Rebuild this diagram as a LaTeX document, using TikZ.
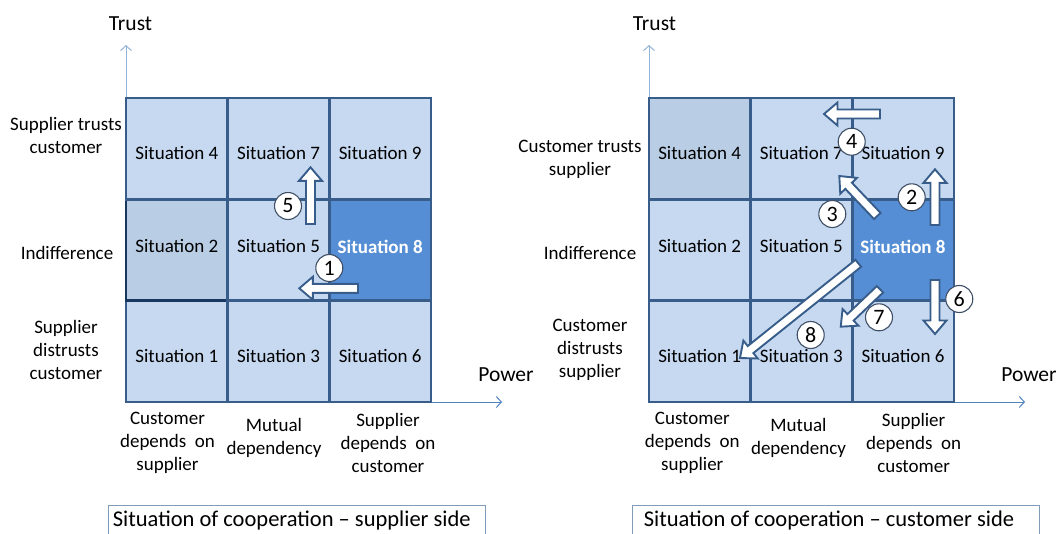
\documentclass[tikz,border=0pt]{standalone}
\usepackage{fontspec}
\setmainfont{Carlito}
\usetikzlibrary{arrows.meta,calc}
\definecolor{cellfill}{HTML}{C6D9F1}
\definecolor{celldark}{HTML}{B9CDE5}
\definecolor{cellhi}{HTML}{558ED5}
\definecolor{gridline}{HTML}{385D8A}
\definecolor{navyline}{HTML}{17375E}
\definecolor{axisv}{HTML}{95B3D7}
\definecolor{axish}{HTML}{4F81BD}
\definecolor{capline}{HTML}{7F9DB9}
\definecolor{arrline}{HTML}{385D8A}
\definecolor{numline}{HTML}{3F4F66}
\newcommand\blockarr[4]{%
  \pgfmathsetmacro\baang{atan2(#2-#4,#3-#1)}%
  \pgfmathsetmacro\balen{veclen(#3-#1,#4-#2)}%
  \draw[barrow,shift={(#1,#2)},rotate=\baang] (0,4.5) -- ({\balen-13.5},4.5) -- ({\balen-13.5},11.5) -- (\balen,0) -- ({\balen-13.5},-11.5) -- ({\balen-13.5},-4.5) -- (0,-4.5) -- cycle;}
\tikzset{
  cell/.style={draw=gridline, line width=2.7pt, minimum width=101.7pt, minimum height=101.3pt, inner sep=0pt, fill=cellfill},
  ctext/.style={font=\fontsize{19}{23}\selectfont, inner sep=0pt},
  hitext/.style={font=\fontsize{19}{23}\selectfont\bfseries, text=white, inner sep=0pt},
  lab/.style={font=\fontsize{19}{23}\selectfont, align=center, inner sep=0pt},
  axlab/.style={font=\fontsize{21.5}{26}\selectfont, inner sep=0pt},
  num/.style={circle, draw=numline, fill=white, line width=1.1pt, minimum size=27pt, inner sep=0pt, font=\fontsize{22}{26}\selectfont},
  barrow/.style={draw=arrline, fill=white, line width=1.9pt, line join=miter},
  capbox/.style={draw=capline, line width=1pt},
  captext/.style={font=\fontsize{22.5}{27}\selectfont, inner sep=0pt},
  axv/.style={draw=axisv, line width=1pt, -{Straight Barb[length=5pt,width=11pt]}},
  axh/.style={draw=axish, line width=1pt, -{Straight Barb[length=5pt,width=11pt]}}
}
\begin{document}
\begin{tikzpicture}[x=1pt,y=-1pt]
\useasboundingbox (0,0) rectangle (1063,533);
\clip (0,0) rectangle (1063,533);
% ---------- LEFT ----------
\coordinate (LO) at (126,402);
\coordinate (LT) at (126,45);
\coordinate (LR) at (502,402);
\draw[axv] (LO) -- (LT);
\draw[axh] (LO) -- (LR);
\node[axlab] (LTrust) at (130.5,24) {Trust};
\node[axlab] (LPower) at (506,375) {Power};
% row 3
\node[cell] (L1) at (176.8,351.3) {};
\node[cell] (L3) at (278.5,351.3) {};
\node[cell] (L6) at (380.2,351.3) {};
% row 2
\node[cell, fill=celldark, draw=navyline] (L2) at (176.8,250) {};
\node[cell] (L5) at (278.5,250) {};
\node[cell, fill=cellhi] (L8) at (380.2,250) {};
% row 1
\node[cell] (L4) at (176.8,148.7) {};
\node[cell] (L7) at (278.5,148.7) {};
\node[cell] (L9) at (380.2,148.7) {};
\node[ctext] (tL4) at (176.8,153) {Situation 4};
\node[ctext] (tL7) at (278.5,153) {Situation 7};
\node[ctext] (tL9) at (380.2,153) {Situation 9};
\node[ctext] (tL2) at (176.8,246) {Situation 2};
\node[ctext] (tL5) at (278.5,246) {Situation 5};
\node[hitext] (tL8) at (380.2,246.5) {Situation 8};
\node[ctext] (tL1) at (176.8,356) {Situation 1};
\node[ctext] (tL3) at (278.5,356) {Situation 3};
\node[ctext] (tL6) at (380.2,356) {Situation 6};
\node[lab] (LrowA) at (66,135) {Supplier trusts\\customer};
\node[lab] (LrowB) at (67,253) {Indifference};
\node[lab] (LrowC) at (66,350) {Supplier\\distrusts\\customer};
\node[lab] (LcolA) at (167.5,443) {Customer\\depends~ on\\supplier};
\node[lab] (LcolB) at (274,438) {Mutual\\dependency};
\node[lab] (LcolC) at (388,443) {Supplier\\depends~ on\\customer};
\blockarr{358}{288.3}{299.3}{288.3}
\blockarr{310.5}{224}{310.5}{167.3}
\node[num] (n1) at (329.3,268) {1};
\node[num] (n5) at (288,206) {5};
\draw[capbox] (108,505.5) rectangle (485,545);
\node[captext, anchor=west] (capL) at (112.7,520) {Situation of cooperation -- supplier side};
% ---------- RIGHT ----------
\coordinate (RO) at (649,402);
\coordinate (RT) at (649,45);
\coordinate (RR) at (1025,402);
\draw[axv] (RO) -- (RT);
\draw[axh] (RO) -- (RR);
\node[axlab] (RTrust) at (654.5,24) {Trust};
\node[axlab] (RPower) at (1029,375) {Power};
\node[cell] (R1) at (699.7,351.3) {};
\node[cell] (R3) at (801.3,351.3) {};
\node[cell] (R6) at (903,351.3) {};
\node[cell] (R2) at (699.7,250) {};
\node[cell] (R5) at (801.3,250) {};
\node[cell, fill=cellhi] (R8) at (903,250) {};
\node[cell, fill=celldark] (R4) at (699.7,148.7) {};
\node[cell] (R7) at (801.3,148.7) {};
\node[cell] (R9) at (903,148.7) {};
\node[ctext] (tR4) at (699.7,153) {Situation 4};
\node[ctext] (tR7) at (801.3,153) {Situation 7};
\node[ctext] (tR9) at (903,153) {Situation 9};
\node[ctext] (tR2) at (699.7,246) {Situation 2};
\node[ctext] (tR5) at (801.3,246) {Situation 5};
\node[hitext] (tR8) at (903,246.5) {Situation 8};
\node[ctext] (tR1) at (699.7,356) {Situation 1};
\node[ctext] (tR3) at (801.3,356) {Situation 3};
\node[ctext] (tR6) at (903,356) {Situation 6};
\node[lab] (RrowA) at (580,159) {Customer trusts\\supplier};
\node[lab] (RrowB) at (590,253) {Indifference};
\node[lab] (RrowC) at (590,350) {Customer\\distrusts\\supplier};
\node[lab] (RcolA) at (692.3,443) {Customer\\depends~ on\\supplier};
\node[lab] (RcolB) at (798.5,438) {Mutual\\dependency};
\node[lab] (RcolC) at (913.6,443) {Supplier\\depends~ on\\customer};
\blockarr{880}{114}{824}{114}
\blockarr{877.3}{216}{839.3}{176}
\blockarr{935}{225}{935}{169.3}
\blockarr{858.3}{263.3}{740}{358}
\blockarr{880}{289.3}{840.7}{326.7}
\blockarr{935}{280}{935}{334}
\node[num] (n4) at (851.7,141.7) {4};
\node[num] (n3) at (832.3,214) {3};
\node[num] (n2) at (911.7,197.3) {2};
\node[num] (n6) at (959.3,299) {6};
\node[num] (n7) at (879,317.3) {7};
\node[num] (n8) at (810.7,335) {8};
\draw[capbox] (632,505.5) rectangle (1039,545);
\node[captext, anchor=west] (capR) at (643.6,520) {Situation of cooperation -- customer side};
\end{tikzpicture}
\end{document}
